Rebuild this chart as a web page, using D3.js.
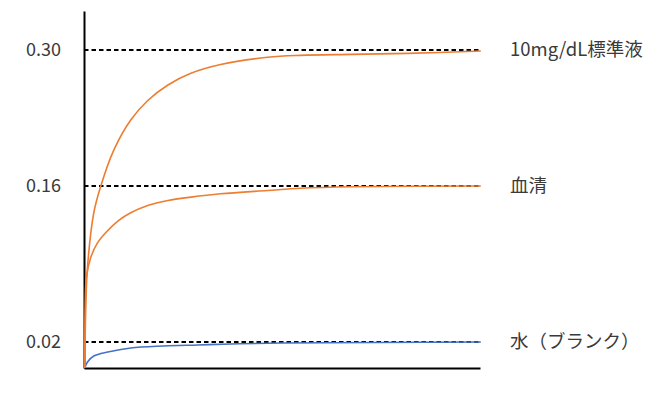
<!DOCTYPE html>
<html>
<head>
<meta charset="utf-8">
<script src="https://cdn.jsdelivr.net/npm/d3@7"></script>
<style>
  body { margin: 0; background: #fff; }
  svg text { font-family: "Noto Sans CJK JP", "Noto Sans", sans-serif; fill: #3a3a3a; }
</style>
</head>
<body>
<svg width="667" height="394"></svg>
<script>
var svg = d3.select('svg');

// reference levels (tick labels + right-hand labels)
var levels = [0.02, 0.16, 0.30];
var levelNames = ['水（ブランク）', '血清', '10mg/dL標準液'];
var tickLabels = ['0.02', '0.16', '0.30'];

// curves: time (0-100) and absorbance
var stdT   = [0, 0.25, 0.68, 2.27, 4.04, 7.32, 11.6, 15.9, 21.0, 26.8, 34.3, 46.2, 54.5, 67.2, 81.6, 100];
var stdV   = [0, 0.051, 0.087, 0.136, 0.160, 0.197, 0.228, 0.248, 0.264, 0.276, 0.285, 0.2925, 0.2945, 0.2955, 0.2965, 0.299];
var serumT = [0, 0.13, 0.4, 1.52, 3.2, 5.5, 8.5, 11.6, 15.9, 21.0, 26.8, 34.3, 46.2, 54.5, 67.2, 100];
var serumV = [0, 0.058, 0.078, 0.096, 0.109, 0.119, 0.129, 0.136, 0.1425, 0.147, 0.150, 0.153, 0.156, 0.158, 0.1593, 0.160];
var waterT = [0, 0.68, 2.27, 5.81, 11.6, 19.9, 28.5, 36.9, 49.5, 100];
var waterV = [0, 0.0046, 0.0092, 0.0123, 0.0154, 0.0169, 0.0177, 0.0185, 0.0192, 0.020];

// x: time, y: schematic (not to scale) so piecewise
var xScale = d3.scaleLinear().domain([0, 100]).range([84, 480]);
var yScale = d3.scaleLinear()
   .domain([0, 0.02, 0.16, 0.30, 0.34])
   .range([368, 342, 186, 50, 11]);

// dashed reference lines
svg.selectAll('.ref')
   .data(levels)
   .enter()
   .append('line')
   .attr('class', 'ref')
   .attr('x1', xScale(0))
   .attr('x2', xScale(100))
   .attr('y1', function(d){ return yScale(d); })
   .attr('y2', function(d){ return yScale(d); })
   .style('stroke', '#000')
   .style('stroke-width', 1.8)
   .style('stroke-dasharray', '4.5,3');

// axes
svg.append('g')
   .attr('class', 'y axis')
   .attr('transform', 'translate(' + xScale(0) + ',0)')
   .call(d3.axisLeft(yScale).tickValues([]).tickSizeOuter(0))
   .select('.domain').style('stroke', '#000').style('stroke-width', 2);

svg.append('g')
   .attr('class', 'x axis')
   .attr('transform', 'translate(0,' + yScale(0) + ')')
   .call(d3.axisBottom(xScale).tickValues([]).tickSizeOuter(0))
   .select('.domain').style('stroke', '#000').style('stroke-width', 2);

var line = d3.line()
   .x(function(d){ return xScale(d[0]) + 0.8; })
   .y(function(d){ return yScale(d[1]); })
   .curve(d3.curveCatmullRom.alpha(0.5));

var series = [
   { t: waterT, v: waterV, color: '#4472C4' },
   { t: serumT, v: serumV, color: '#ED7D31' },
   { t: stdT,   v: stdV,   color: '#ED7D31' }
];

series.forEach(function(s){
   svg.append('path')
      .datum(d3.zip(s.t, s.v))
      .attr('d', line)
      .style('fill', 'none')
      .style('stroke', s.color)
      .style('stroke-width', 1.6);
});

// tick labels
svg.selectAll('.tick-label')
   .data(levels)
   .enter()
   .append('text')
   .attr('class', 'tick-label')
   .attr('x', 61)
   .attr('y', function(d){ return yScale(d); })
   .attr('dy', '0.35em')
   .attr('text-anchor', 'end')
   .style('font-size', '18px')
   .text(function(d, i){ return tickLabels[i]; });

// right-hand labels
svg.selectAll('.level-label')
   .data(levels)
   .enter()
   .append('text')
   .attr('class', 'level-label')
   .attr('x', xScale(100) + 30)
   .attr('y', function(d){ return yScale(d); })
   .attr('dy', '0.35em')
   .style('font-size', '18.5px')
   .text(function(d, i){ return levelNames[i]; });
</script>
</body>
</html>
